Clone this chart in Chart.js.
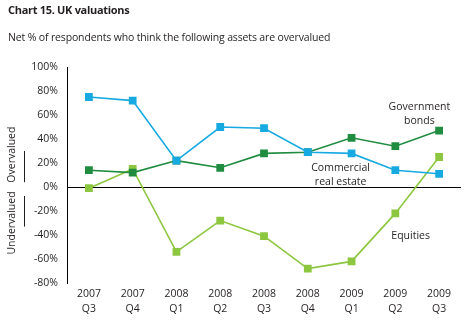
<!DOCTYPE html>
<html>
<head>
<meta charset="utf-8">
<script src="https://cdn.jsdelivr.net/npm/chart.js@4/dist/chart.umd.min.js"></script>
<style>
  html, body { margin: 0; padding: 0; background: #fff; }
  #wrap { position: relative; width: 475px; height: 328px; font-family: "Open Sans", sans-serif; color: #231f20; }
  #title { position: absolute; left: 8px; top: 2px; font-size: 11px; font-weight: bold; letter-spacing: -0.3px; }
  #subtitle { position: absolute; left: 8px; top: 30px; font-size: 10.5px; letter-spacing: -0.15px; }
  canvas { position: absolute; left: 0; top: 0; }
</style>
</head>
<body>
<div id="wrap">
  <canvas id="chart" width="475" height="328"></canvas>
  <div id="title">Chart 15. UK valuations</div>
  <div id="subtitle">Net % of respondents who think the following assets are overvalued</div>
</div>
<script>
// quarters on the x axis (two-line labels)
const quarters = [
  ['2007', 'Q3'], ['2007', 'Q4'], ['2008', 'Q1'], ['2008', 'Q2'], ['2008', 'Q3'],
  ['2008', 'Q4'], ['2009', 'Q1'], ['2009', 'Q2'], ['2009', 'Q3']
];

// net % overvalued
const commercialRealEstate = [75, 72, 22, 50, 49, 29, 28, 14, 11];
const governmentBonds      = [14, 12, 22, 16, 28, 29, 41, 34, 47];
const equities             = [-1, 15, -54, -28, -41, -68, -62, -22, 25];

const yTicks = [100, 80, 60, 40, 20, 0, -20, -40, -60, -80];

const BLUE = '#17a9e1';
const DARK_GREEN = '#1f8c3f';
const LIGHT_GREEN = '#8dc63f';
const TEXT = '#231f20';
const FONT = '"Open Sans", sans-serif';

// series labels placed in data space (x = category index, y = value)
const seriesLabels = [
  { lines: ['Government', 'bonds'], x: 7.55, y: [67, 55] },
  { lines: ['Commercial', 'real estate'], x: 5.75, y: [16, 4] },
  { lines: ['Equities'], x: 7.35, y: [-41] }
];

// side markers left of the axis
const sideLabels = [
  { text: 'Overvalued', mid: 27, lineFrom: 30, lineTo: 4 },
  { text: 'Undervalued', mid: -30, lineFrom: -7.5, lineTo: -33 }
];

const labelPlugin = {
  id: 'labels',
  afterDraw(chart) {
    const { ctx, scales: { x, y } } = chart;
    ctx.save();
    ctx.fillStyle = TEXT;
    ctx.font = '10.5px ' + FONT;
    ctx.textAlign = 'center';
    ctx.textBaseline = 'middle';
    seriesLabels.forEach(l => {
      const px = x.getPixelForValue(l.x);
      l.lines.forEach((t, i) => ctx.fillText(t, px, y.getPixelForValue(l.y[i])));
    });

    sideLabels.forEach(s => {
      ctx.save();
      ctx.translate(12, y.getPixelForValue(s.mid));
      ctx.rotate(-Math.PI / 2);
      ctx.fillText(s.text, 0, 0);
      ctx.restore();
      ctx.strokeStyle = TEXT;
      ctx.lineWidth = 1;
      ctx.beginPath();
      ctx.moveTo(24.5, y.getPixelForValue(s.lineFrom));
      ctx.lineTo(24.5, y.getPixelForValue(s.lineTo));
      ctx.stroke();
    });
    ctx.restore();
  }
};

function series(label, data, color) {
  return {
    label, data,
    borderColor: color,
    backgroundColor: color,
    borderWidth: 1.6,
    pointStyle: 'rect',
    pointRadius: 5.5,
    pointBorderWidth: 0,
    tension: 0
  };
}

new Chart(document.getElementById('chart'), {
  type: 'line',
  data: {
    labels: quarters,
    datasets: [
      series('Commercial real estate', commercialRealEstate, BLUE),
      series('Government bonds', governmentBonds, DARK_GREEN),
      series('Equities', equities, LIGHT_GREEN)
    ]
  },
  options: {
    responsive: false,
    animation: false,
    layout: { padding: { left: 0, right: 14, top: 67, bottom: 0 } },
    plugins: { legend: { display: false }, tooltip: { enabled: false } },
    scales: {
      x: {
        offset: true,
        grid: { display: false },
        border: { display: false },
        ticks: { color: TEXT, font: { family: FONT, size: 10.5, lineHeight: 1.45 }, padding: -5, maxRotation: 0 },
        afterFit(scale) { scale.height = 45; }
      },
      y: {
        min: -80, max: 100,
        afterBuildTicks(scale) { scale.ticks = yTicks.map(v => ({ value: v })); },
        grid: {
          drawTicks: false,
          color: ctx => ctx.tick && ctx.tick.value === 0 ? '#000' : 'rgba(0,0,0,0)',
          lineWidth: 1
        },
        border: { display: true, color: '#000', width: 1 },
        ticks: {
          color: TEXT, font: { family: FONT, size: 10.5 }, padding: 9,
          callback: v => v + '%'
        },
        afterFit(scale) { scale.width = 67; }
      }
    }
  },
  plugins: [labelPlugin]
});
</script>
</body>
</html>
